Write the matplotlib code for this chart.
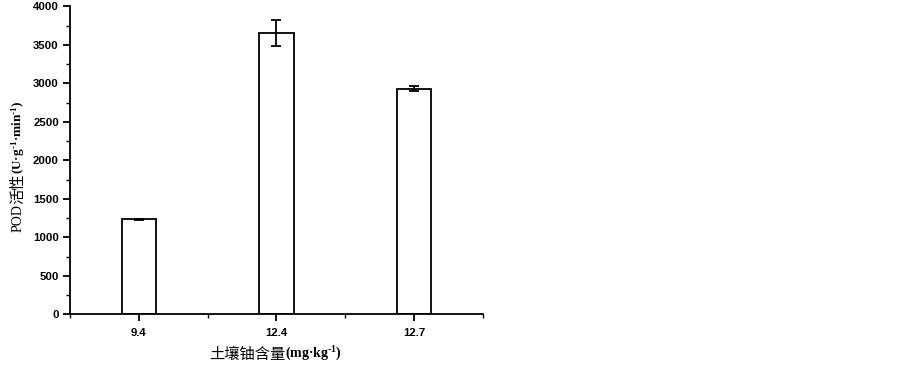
import matplotlib
matplotlib.use("Agg")
import matplotlib.pyplot as plt
import numpy as np
from matplotlib.ticker import MultipleLocator, FixedLocator

categories = ["9.4", "12.4", "12.7"]
pod_values = [1234, 3655, 2930]
pod_errors = [8, 167, 35]

plt.rcParams['mathtext.fontset'] = 'custom'
plt.rcParams['mathtext.rm'] = 'Liberation Serif:bold'
plt.rcParams['mathtext.it'] = 'Liberation Serif:bold'
plt.rcParams['mathtext.bf'] = 'Liberation Serif:bold'

W, H = 903, 366
fig = plt.figure(figsize=(W / 100, H / 100), dpi=100)
ax = fig.add_axes([70 / W, (H - 314.3) / H, (483 - 70) / W, (314.3 - 6.3) / H])

x = np.arange(1, len(categories) + 1)
ax.bar(x, pod_values, width=0.25, color='white', edgecolor='black', linewidth=1.3,
       yerr=pod_errors, capsize=3.6, error_kw=dict(elinewidth=1.3, capthick=1.3, ecolor='black'))

ax.set_xlim(0.5, 3.5)
ax.set_ylim(0, 4000)
ax.set_xticks(x)
ax.set_xticklabels(categories)
ax.xaxis.set_minor_locator(FixedLocator([0.5, 1.5, 2.5, 3.5]))
ax.yaxis.set_major_locator(MultipleLocator(500))
ax.yaxis.set_minor_locator(MultipleLocator(250))

for s in ['top', 'right']:
    ax.spines[s].set_visible(False)
for s in ['left', 'bottom']:
    ax.spines[s].set_linewidth(1.3)

ax.tick_params(axis='both', which='major', direction='out', length=5, width=1.3,
               labelsize=8.2, pad=3)
ax.tick_params(axis='both', which='minor', direction='out', length=3, width=1.0)
for lab in ax.get_xticklabels() + ax.get_yticklabels():
    lab.set_fontfamily(['Liberation Sans', 'DejaVu Sans'])
    lab.set_fontweight('bold')
ax.tick_params(axis='x', pad=5)

fam = ['Liberation Serif', 'Noto Sans CJK SC', 'DejaVu Serif']
cjk = ['Noto Sans CJK SC', 'DejaVu Sans']
sup = r"$^{\text{-1}}$"

# y label: three pieces
y1 = fig.text(18 / W, (H - 232) / H, "POD", rotation=90, ha='center', va='bottom',
              fontsize=10, family=fam)
y2 = ax.annotate("活性", xy=(0.5, 1.0), xycoords=y1, rotation=90,
                 ha='center', va='bottom', fontsize=11, family=cjk)
ax.annotate("(U·g" + sup + "·min" + sup + ")", xy=(0.5, 1.0), xycoords=y2, rotation=90,
            ha='center', va='bottom', fontsize=9.5, fontweight='bold', family=fam)

# x label: two pieces
x1 = fig.text(209 / W, (H - 354) / H, "土壤铀含量", ha='left', va='center',
              fontsize=11, family=cjk)
ax.annotate("(mg·kg" + sup + ")", xy=(1.0, 0.5), xycoords=x1, ha='left', va='center',
            fontsize=10, fontweight='bold', family=fam)

fig.savefig("out.png", dpi=100)
